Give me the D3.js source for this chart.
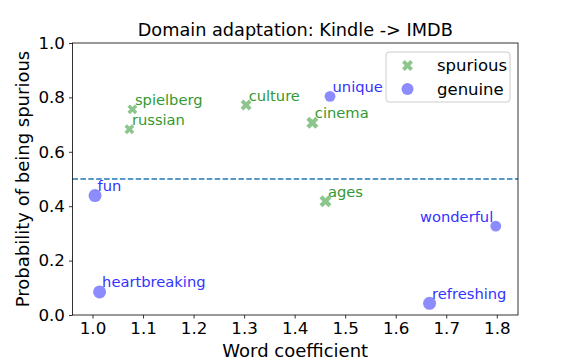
<!DOCTYPE html>
<html><head><meta charset="utf-8">
<script src="https://cdn.jsdelivr.net/npm/d3@7"></script>
<style>body{margin:0;background:#fff;} text{font-family:"DejaVu Sans",sans-serif;}</style>
</head><body><svg id="chart" width="576" height="360"></svg>
<script>
const spuriousWords = ["spielberg","russian","culture","cinema","ages"];
const spuriousCoef  = [1.079, 1.073, 1.304, 1.435, 1.461];
const spuriousProb  = [0.756, 0.683, 0.772, 0.707, 0.418];
const spuriousSize  = [100, 100, 121, 144, 144];

const genuineWords = ["fun","heartbreaking","unique","wonderful","refreshing"];
const genuineCoef  = [1.005, 1.014, 1.470, 1.798, 1.667];
const genuineProb  = [0.439, 0.085, 0.804, 0.327, 0.043];
const genuineSize  = [144, 144, 100, 100, 144];

const rightAligned = ["wonderful"];
const xTicks = [1.0,1.1,1.2,1.3,1.4,1.5,1.6,1.7,1.8];
const yTicks = [0.0,0.2,0.4,0.6,0.8,1.0];
const threshold = 0.5;

const svg = d3.select("#chart");
const L=72.5, R=518, T=43, B=315;
const x = d3.scaleLinear().domain([0.9604,1.842]).range([L,R]);
const y = d3.scaleLinear().domain([0,1]).range([B,T]);
const rScale = d3.scaleSqrt().domain([0,144]).range([0,6.5]);

// threshold line
svg.append("line").attr("x1",L).attr("x2",R).attr("y1",y(threshold)).attr("y2",y(threshold))
  .attr("stroke","#1f77b4").attr("stroke-width",1.5).attr("stroke-dasharray","5.5,2.4");

// axes
const xAxis = svg.append("g").attr("transform",`translate(0,${B})`)
  .call(d3.axisBottom(x).tickValues(xTicks).tickFormat(d3.format(".1f")).tickSize(3.5).tickPadding(4));
const yAxis = svg.append("g").attr("transform",`translate(${L},0)`)
  .call(d3.axisLeft(y).tickValues(yTicks).tickFormat(d3.format(".1f")).tickSize(3.5).tickPadding(4));
[xAxis,yAxis].forEach(g=>{
  g.select(".domain").remove();
  g.selectAll("text").attr("font-size",16.7).attr("fill","#000").attr("font-family","DejaVu Sans");
  g.selectAll("line").attr("stroke","#000").attr("stroke-width",0.8);
});
svg.append("rect").attr("x",L).attr("y",T).attr("width",R-L).attr("height",B-T)
  .attr("fill","none").attr("stroke","#000").attr("stroke-width",0.8);

const crossPath = (s)=>{
  const w = 2*rScale(s) - 1;        // overall width of the rotated cross
  const rc = w/5.66;
  return d3.symbol().type(d3.symbolCross).size(Math.pow(2*rc,2)*5)();
};

// spurious
const sp = spuriousWords.map((w,i)=>({w,x:spuriousCoef[i],y:spuriousProb[i],s:spuriousSize[i]}));
svg.selectAll(".sp").data(sp).join("path").attr("class","sp")
  .attr("d",d=>crossPath(d.s))
  .attr("transform",d=>`translate(${x(d.x)},${y(d.y)}) rotate(45)`)
  .attr("fill","rgb(140,198,140)");
svg.selectAll(".spl").data(sp).join("text").attr("class","spl")
  .attr("x",d=>x(d.x)+(rightAligned.includes(d.w)?-2.5:2.5)).attr("y",d=>y(d.y)-4.5)
  .attr("text-anchor",d=>rightAligned.includes(d.w)?"end":"start")
  .attr("font-size",14.7).attr("fill","rgb(51,153,51)").text(d=>d.w);

// genuine
const ge = genuineWords.map((w,i)=>({w,x:genuineCoef[i],y:genuineProb[i],s:genuineSize[i]}));
svg.selectAll(".ge").data(ge).join("circle").attr("class","ge")
  .attr("cx",d=>x(d.x)).attr("cy",d=>y(d.y)).attr("r",d=>rScale(d.s))
  .attr("fill","rgb(140,140,255)");
svg.selectAll(".gel").data(ge).join("text").attr("class","gel")
  .attr("x",d=>x(d.x)+(rightAligned.includes(d.w)?-2.5:2.5)).attr("y",d=>y(d.y)-4.5)
  .attr("text-anchor",d=>rightAligned.includes(d.w)?"end":"start")
  .attr("font-size",14.7).attr("fill","rgb(51,51,255)").text(d=>d.w);

// legend
const lg = svg.append("g");
lg.append("rect").attr("x",386).attr("y",52).attr("width",124).attr("height",50).attr("rx",3)
  .attr("fill","rgba(255,255,255,0.8)").attr("stroke","#ccc").attr("stroke-width",1);
lg.append("path").attr("d",crossPath(121)).attr("transform","translate(407.5,65.5) rotate(45)").attr("fill","rgb(140,198,140)");
lg.append("circle").attr("cx",407.5).attr("cy",89).attr("r",6).attr("fill","rgb(140,140,255)");
lg.append("text").attr("x",437).attr("y",71).attr("font-size",16.5).attr("fill","#000").text("spurious");
lg.append("text").attr("x",437).attr("y",95).attr("font-size",16.5).attr("fill","#000").text("genuine");

// titles
svg.append("text").attr("x",(L+R)/2).attr("y",36).attr("text-anchor","middle").attr("font-size",17.7).attr("fill","#000")
  .text("Domain adaptation: Kindle -> IMDB");
svg.append("text").attr("x",(L+R)/2).attr("y",357).attr("text-anchor","middle").attr("font-size",18).attr("fill","#000")
  .text("Word coefficient");
svg.append("text").attr("transform",`translate(29,${(T+B)/2}) rotate(-90)`).attr("text-anchor","middle").attr("font-size",18).attr("fill","#000")
  .text("Probability of being spurious");
</script></body></html>
